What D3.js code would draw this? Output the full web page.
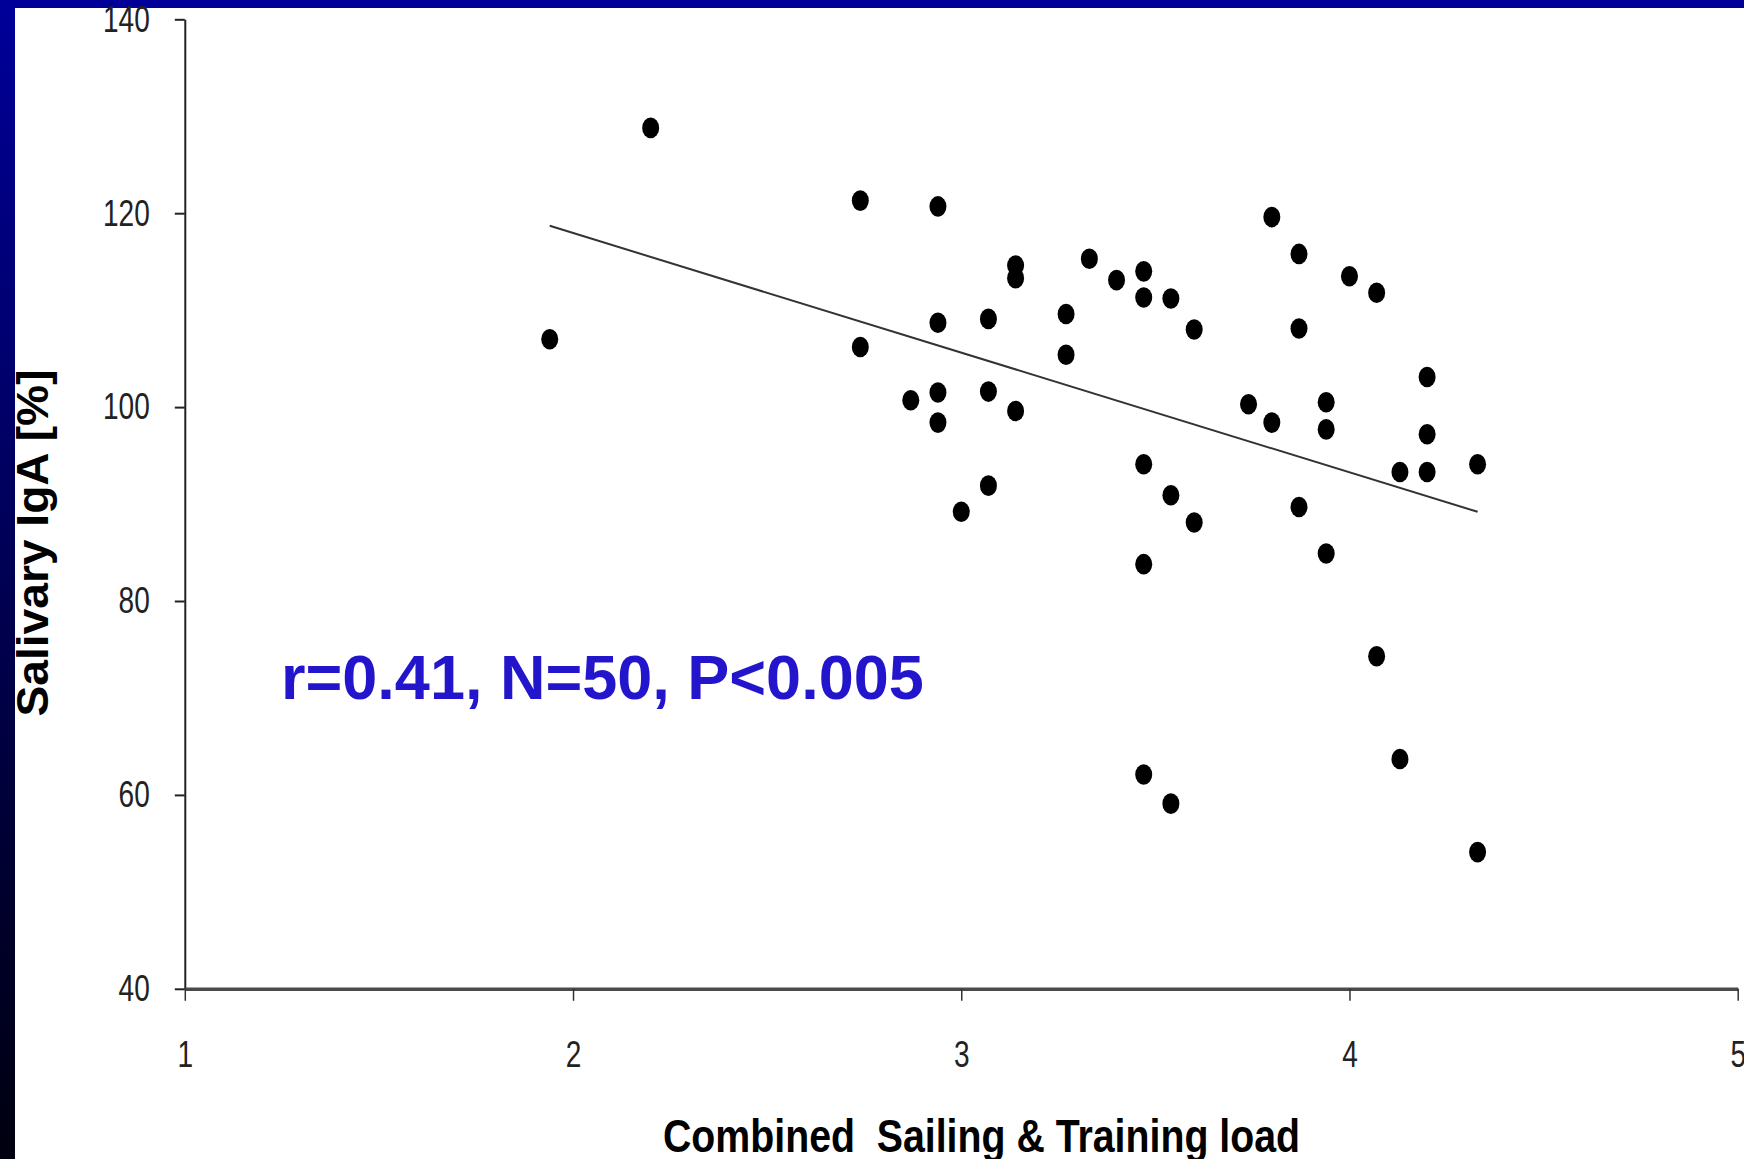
<!DOCTYPE html>
<html>
<head>
<meta charset="utf-8">
<script src="https://cdn.jsdelivr.net/npm/d3@7"></script>
<style>
  body { margin: 0; background: #fff; }
  svg { display: block; }
  .narrow { font-family: "Liberation Sans Narrow", "Arial Narrow", "Liberation Sans", sans-serif; }
</style>
</head>
<body>
<div id="chart"></div>
<script>
// Combined load (x) vs salivary IgA (y)
var loadValues = [1.94, 2.20, 2.74, 2.74, 2.87, 2.94, 2.94, 2.94, 2.94, 3.00,
                  3.07, 3.07, 3.07, 3.14, 3.14, 3.14, 3.27, 3.27, 3.33, 3.40,
                  3.47, 3.47, 3.47, 3.47, 3.47, 3.54, 3.54, 3.54, 3.60, 3.60,
                  3.74, 3.80, 3.80, 3.87, 3.87, 3.87, 3.94, 3.94, 3.94, 4.00,
                  4.07, 4.07, 4.13, 4.13, 4.20, 4.20, 4.20, 4.33, 4.33]
var igaValues = [107.0, 128.8, 121.3, 106.2, 100.7, 120.7, 108.7, 101.5, 98.4, 89.2,
                 109.1, 101.6, 91.9, 114.6, 113.3, 99.6, 109.6, 105.4, 115.3, 113.1,
                 114.0, 111.3, 94.1, 83.8, 62.1, 111.2, 90.9, 59.1, 108.0, 88.1,
                 100.3, 119.6, 98.4, 115.8, 108.1, 89.7, 100.5, 97.7, 84.9, 113.5,
                 111.8, 74.3, 93.3, 63.7, 103.1, 97.2, 93.3, 94.1, 54.1]

// regression line ends
var fitX = [1.94, 4.33]
var fitY = [118.7, 89.2]

var xTicks = [1, 2, 3, 4, 5]
var yTicks = [40, 60, 80, 100, 120, 140]

var points = loadValues.map((d, i) => ({x: d, y: igaValues[i]}))

var W = 1744, H = 1159

var svg = d3.select("#chart")
    .append("svg")
    .attr("width", W)
    .attr("height", H)

// slide frame: blue top bar, dark gradient strip on the left
var grad = svg.append("defs").append("linearGradient")
    .attr("id", "sideGrad")
    .attr("x1", 0).attr("y1", 0).attr("x2", 0).attr("y2", 1)
grad.append("stop").attr("offset", "0%").attr("stop-color", "#000099")
grad.append("stop").attr("offset", "100%").attr("stop-color", "#00000f")

svg.append("rect").attr("x", 0).attr("y", 0).attr("width", W).attr("height", 8).attr("fill", "#000099")
svg.append("rect").attr("x", 0).attr("y", 0).attr("width", 15).attr("height", H).attr("fill", "url(#sideGrad)")

// Scales
var xScale = d3.scaleLinear().domain([1, 5]).range([184.8, 1737.7])
var yScale = d3.scaleLinear().domain([40, 140]).range([988.8, 19.3])

// Axes
var yAxis = svg.append("g")
    .attr("class", "y axis narrow")
    .attr("transform", "translate(" + xScale(1) + ",0)")
    .call(d3.axisLeft(yScale).tickValues(yTicks).tickFormat(d3.format("d"))
        .tickSize(10).tickSizeOuter(0).tickPadding(25))

var xAxis = svg.append("g")
    .attr("class", "x axis narrow")
    .attr("transform", "translate(0," + yScale(40) + ")")
    .call(d3.axisBottom(xScale).tickValues(xTicks).tickFormat(d3.format("d"))
        .tickSize(12).tickSizeOuter(0).tickPadding(40))

yAxis.select(".domain").attr("stroke", "#222").attr("stroke-width", 2)
yAxis.selectAll(".tick line").attr("stroke", "#222").attr("stroke-width", 2)
xAxis.select(".domain").attr("stroke", "#4a4a4a").attr("stroke-width", 3.5)
xAxis.selectAll(".tick line").attr("stroke", "#333").attr("stroke-width", 1.5)

// tick labels are a condensed face: squeeze each to ~15.6px per digit
svg.selectAll(".axis text")
    .attr("fill", "#222")
    .style("font-size", "37px")
    .style("font-family", null)
    .attr("textLength", function() { return this.textContent.length * 15.6 })
    .attr("lengthAdjust", "spacingAndGlyphs")

// trend line
svg.append("line")
    .attr("x1", xScale(fitX[0]))
    .attr("y1", yScale(fitY[0]))
    .attr("x2", xScale(fitX[1]))
    .attr("y2", yScale(fitY[1]))
    .attr("stroke", "#333")
    .attr("stroke-width", 2)

// dots
svg.append("g")
    .selectAll("ellipse")
    .data(points)
    .enter()
    .append("ellipse")
    .attr("cx", d => xScale(d.x))
    .attr("cy", d => yScale(d.y))
    .attr("rx", 8.5)
    .attr("ry", 10.3)
    .attr("fill", "#000")

// statistics label
svg.append("text")
    .attr("x", 281)
    .attr("y", 699)
    .attr("fill", "#2215cc")
    .style("font-family", "'Liberation Sans', Arial, sans-serif")
    .style("font-weight", "bold")
    .style("font-size", "63px")
    .text("r=0.41, N=50, P<0.005")

// x-axis label
svg.append("text")
    .attr("class", "narrow")
    .attr("x", 663)
    .attr("y", 1152)
    .attr("textLength", 637)
    .attr("lengthAdjust", "spacingAndGlyphs")
    .style("white-space", "pre")
    .style("font-weight", "bold")
    .style("font-size", "46px")
    .attr("fill", "#000")
    .text("Combined  Sailing & Training load")

// y-axis label
svg.append("text")
    .attr("transform", "translate(48,543) rotate(-90)")
    .attr("text-anchor", "middle")
    .attr("textLength", 347)
    .attr("lengthAdjust", "spacingAndGlyphs")
    .style("font-family", "'Liberation Sans', Arial, sans-serif")
    .style("font-weight", "bold")
    .style("font-size", "45px")
    .attr("fill", "#000")
    .text("Salivary IgA [%]")
</script>
</body>
</html>
